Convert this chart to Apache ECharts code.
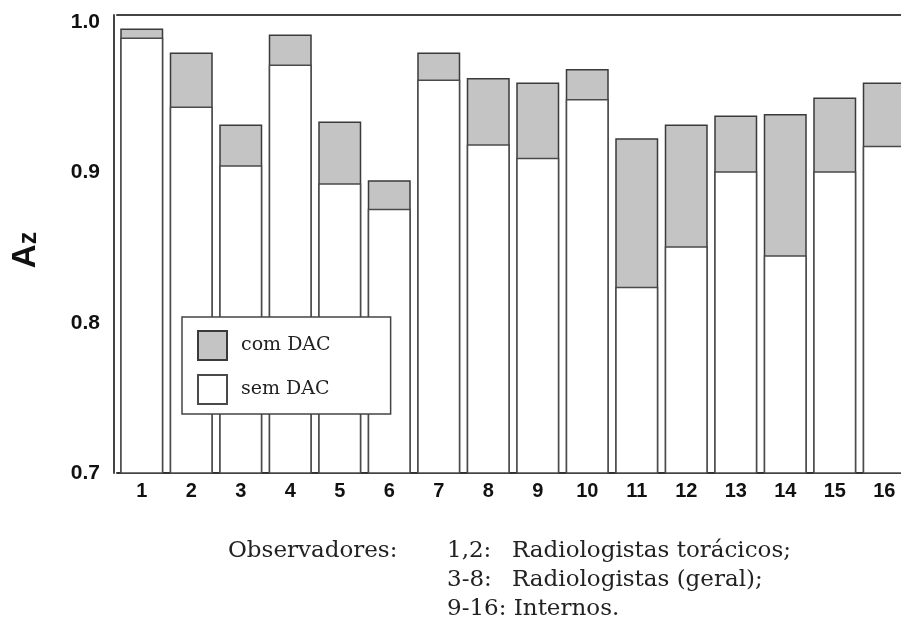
<!DOCTYPE html>
<html>
<head>
<meta charset="utf-8">
<script src="https://cdn.jsdelivr.net/npm/echarts@6/dist/echarts.min.js"></script>
<style>html,body{margin:0;padding:0;background:#fff;}#c{width:901px;height:625px;}</style>
</head>
<body>
<div id="c"></div>
<script>
const categories = ['1','2','3','4','5','6','7','8','9','10','11','12','13','14','15','16'];
const comDAC = [0.996, 0.980, 0.932, 0.992, 0.934, 0.895, 0.980, 0.963, 0.960, 0.969, 0.923, 0.932, 0.938, 0.939, 0.950, 0.960];
const semDAC = [0.990, 0.944, 0.905, 0.972, 0.893, 0.876, 0.962, 0.919, 0.910, 0.949, 0.824, 0.851, 0.901, 0.845, 0.901, 0.918];
const seriesNames = ['com DAC', 'sem DAC'];
const noteLines = [
  ['1,2:', 'Radiologistas torácicos;'],
  ['3-8:', 'Radiologistas (geral);'],
  ['9-16: Internos.', '']
];
const noteTitle = 'Observadores:';

const chart = echarts.init(document.getElementById('c'), null, {renderer: 'canvas'});
const serif = 'DejaVu Serif';
const noteY = [551, 580, 609];
const noteFont = 23;
const graphics = [{type:'text', style:{text: noteTitle, x:228, y:noteY[0], fill:'#222', fontSize:noteFont, fontFamily:serif, verticalAlign:'middle'}}];
noteLines.forEach((l, i) => {
  graphics.push({type:'text', style:{text:l[0], x:447, y:noteY[i], fill:'#222', fontSize:noteFont, fontFamily:serif, verticalAlign:'middle'}});
  if (l[1]) graphics.push({type:'text', style:{text:l[1], x:512, y:noteY[i], fill:'#222', fontSize:noteFont, fontFamily:serif, verticalAlign:'middle'}});
});

chart.setOption({
  animation: false,
  backgroundColor: '#fff',
  grid: {left: 117, right: -8, top: 15, bottom: 152, containLabel: false, outerBoundsMode: 'none'},
  legend: {
    data: seriesNames,
    orient: 'vertical',
    left: 182, top: 317,
    itemWidth: 29, itemHeight: 29, itemGap: 13,
    padding: [13, 60, 9, 15],
    borderColor: '#444', borderWidth: 1.5, backgroundColor: '#fff',
    icon: 'rect',
    textStyle: {fontFamily: serif, fontSize: 19, color: '#222', padding: [0,0,0,9]}
  },
  xAxis: [{
    type: 'category', data: categories, position: 'bottom',
    axisLine: {lineStyle: {color: '#333', width: 2}},
    axisTick: {show: false},
    axisLabel: {color: '#111', fontWeight: 'bold', fontSize: 20, fontFamily: 'Liberation Sans', margin: 8}
  }, {
    type: 'category', data: categories, position: 'top',
    axisLine: {lineStyle: {color: '#444', width: 2}},
    axisTick: {show: false}, axisLabel: {show: false}
  }],
  yAxis: {
    type: 'value', min: 0.7, max: 1.005, interval: 0.1, offset: 3,
    axisLine: {show: true, lineStyle: {color: '#444', width: 2}},
    axisTick: {show: false}, splitLine: {show: false},
    axisLabel: {color: '#111', fontWeight: 'bold', fontSize: 21, fontFamily: 'Liberation Sans', margin: 14,
      showMaxLabel: false, formatter: v => v.toFixed(1)},
    name: '{a|A}{z|z}', nameLocation: 'middle', nameRotate: 90, nameGap: 72,
    nameTextStyle: {padding: [0, 12, 0, 0], rich: {
      a: {fontSize: 33, fontWeight: 'bold', fontFamily: 'Liberation Sans', color: '#111', lineHeight: 36, verticalAlign: 'bottom'},
      z: {fontSize: 25, fontWeight: 'bold', fontFamily: 'Liberation Sans', color: '#111', lineHeight: 36, verticalAlign: 'bottom'}
    }}
  },
  series: [{
    name: seriesNames[0], type: 'bar', data: comDAC, barWidth: 43, barGap: '-100%',
    itemStyle: {color: '#c4c4c4', borderColor: '#3a3a3a', borderWidth: 1.5}
  }, {
    name: seriesNames[1], type: 'bar', data: semDAC, barWidth: 43, barGap: '-100%',
    itemStyle: {color: '#ffffff', borderColor: '#4a4a4a', borderWidth: 1.5}
  }],
  graphic: graphics
});
</script>
</body>
</html>
